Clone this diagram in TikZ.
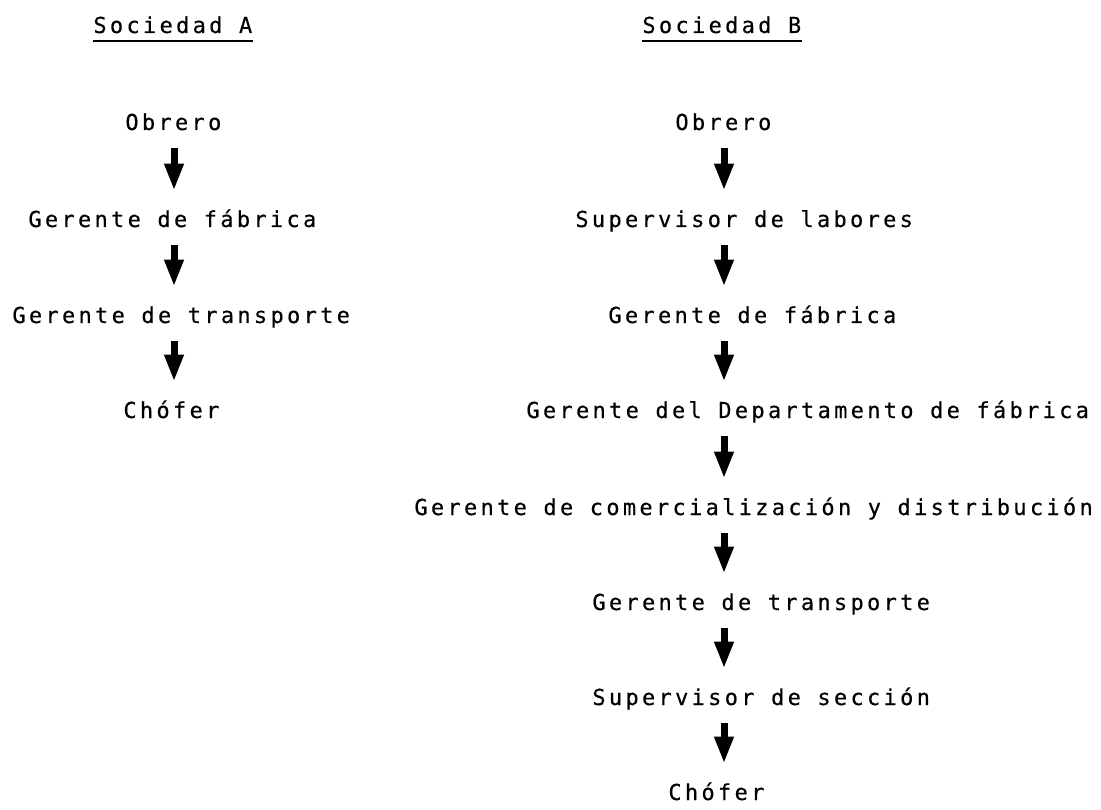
\documentclass[tikz,border=0pt]{standalone}
\usepackage{fontspec}
\newfontfamily\typefont[LetterSpace=15,FakeBold=0.3]{DejaVu Sans Mono}
\usetikzlibrary{arrows.meta}
\begin{document}
\begin{tikzpicture}[x=0.5pt,y=0.5pt,
  lbl/.style={anchor=base west, inner sep=0pt, text height=8pt, text depth=0pt,
    font={\typefont\fontsize{11pt}{13pt}\selectfont}},
  arr/.style={line width=3.5pt, -{Triangle[width=9pt,length=13.5pt]},
    shorten <=9pt, shorten >=10pt},
  uline/.style={line width=1pt}]
\fill[white] (0,0) rectangle (1101,809);
\useasboundingbox (0,0) rectangle (1101,809);
\coordinate (cl) at (174,0);
\coordinate (cr) at (724,0);
% Sociedad A
\node[lbl] (sa) at (93,776) {Sociedad A};
\draw[uline] ([yshift=-4pt]sa.base west) -- ([yshift=-4pt]sa.base east);
\node[lbl] (a1) at (125,679) {Obrero};
\node[lbl] (a2) at (28,582) {Gerente de fábrica};
\node[lbl] (a3) at (12,486) {Gerente de transporte};
\node[lbl] (a4) at (123,391) {Chófer};
\draw[arr] (a1.south -| cl) -- (a2.north -| cl);
\draw[arr] (a2.south -| cl) -- (a3.north -| cl);
\draw[arr] (a3.south -| cl) -- (a4.north -| cl);
% Sociedad B
\node[lbl] (sb) at (642,776) {Sociedad B};
\draw[uline] ([yshift=-4pt]sb.base west) -- ([yshift=-4pt]sb.base east);
\node[lbl] (b1) at (675,679) {Obrero};
\node[lbl] (b2) at (575,582) {Supervisor de labores};
\node[lbl] (b3) at (608,486) {Gerente de fábrica};
\node[lbl] (b4) at (526,391) {Gerente del Departamento de fábrica};
\node[lbl] (b5) at (414,294) {Gerente de comercialización y distribución};
\node[lbl] (b6) at (592,199) {Gerente de transporte};
\node[lbl] (b7) at (592,104) {Supervisor de sección};
\node[lbl] (b8) at (668,9) {Chófer};
\draw[arr] (b1.south -| cr) -- (b2.north -| cr);
\draw[arr] (b2.south -| cr) -- (b3.north -| cr);
\draw[arr] (b3.south -| cr) -- (b4.north -| cr);
\draw[arr] (b4.south -| cr) -- (b5.north -| cr);
\draw[arr] (b5.south -| cr) -- (b6.north -| cr);
\draw[arr] (b6.south -| cr) -- (b7.north -| cr);
\draw[arr] (b7.south -| cr) -- (b8.north -| cr);
\end{tikzpicture}
\end{document}
